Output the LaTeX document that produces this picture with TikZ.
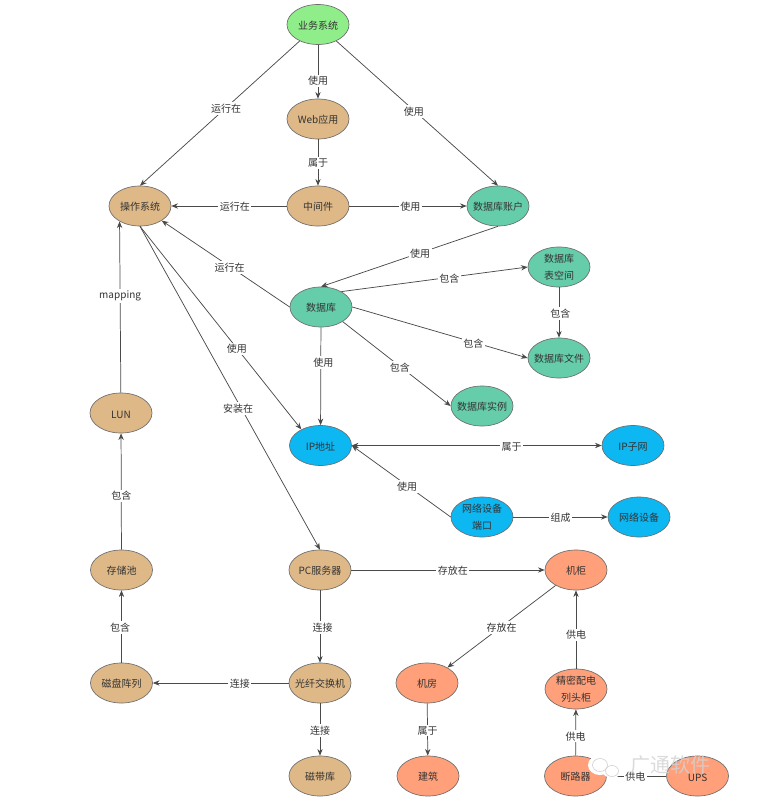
\documentclass[tikz,border=0pt]{standalone}
\usepackage{fontspec}
\setmainfont{Noto Sans CJK SC}
\usetikzlibrary{arrows.meta,shapes.geometric}
\definecolor{greenfill}{HTML}{8FEE8A}
\definecolor{tanfill}{HTML}{DEB887}
\definecolor{tealfill}{HTML}{66CDAA}
\definecolor{bluefill}{HTML}{0DB7F2}
\definecolor{coralfill}{HTML}{FFA07A}
\definecolor{edgecol}{HTML}{4A4A4A}
\definecolor{textcol}{HTML}{333333}
\tikzset{
  x=0.75pt,y=-0.75pt,
  ent/.style={ellipse,draw=edgecol!80,line width=0.5pt,minimum width=46.5pt,minimum height=30pt,inner xsep=-8pt,inner ysep=-4pt,align=center,font=\fontsize{7.5}{12.75}\selectfont,text=textcol},
  oneline/.style={ent,text height=8pt},
  lab/.style={fill=white,inner sep=1.2pt,yshift=-0.75pt,font=\fontsize{7.5}{9}\selectfont,text=textcol},
  link/.style={draw=edgecol,line width=0.55pt,-{Stealth[length=5pt,width=4pt]}},
  both/.style={draw=edgecol,line width=0.55pt,{Stealth[length=5pt,width=4pt]}-{Stealth[length=5pt,width=4pt]}},
  plain/.style={draw=edgecol,line width=0.55pt},
}
\begin{document}
\begin{tikzpicture}
\useasboundingbox (0,0) rectangle (767,802);
\fill[white] (0,0) rectangle (767,802);
\node[oneline,fill=greenfill] (biz) at (318,24.5) {业务系统};
\node[oneline,fill=tanfill] (web) at (318,119) {Web应用};
\node[oneline,fill=tanfill] (mw) at (318,206) {中间件};
\node[oneline,fill=tanfill] (os) at (140,206) {操作系统};
\node[oneline,fill=tealfill] (acct) at (498,206) {数据库账户};
\node[oneline,fill=tealfill] (db) at (321,307) {数据库};
\node[ent,fill=tealfill] (ts) at (559,267) {数据库\\表空间};
\node[oneline,fill=tealfill] (dbf) at (559,358) {数据库文件};
\node[oneline,fill=tealfill] (inst) at (482,406) {数据库实例};
\node[oneline,fill=bluefill] (ip) at (320.5,445.5) {IP地址};
\node[oneline,fill=bluefill] (subnet) at (633,445.5) {IP子网};
\node[ent,fill=bluefill] (port) at (482,517) {网络设备\\端口};
\node[oneline,fill=bluefill] (dev) at (639,517) {网络设备};
\node[oneline,fill=tanfill] (lun) at (121,413) {LUN};
\node[oneline,fill=tanfill] (pool) at (121.5,570) {存储池};
\node[oneline,fill=tanfill] (array) at (121.5,683) {磁盘阵列};
\node[oneline,fill=tanfill] (pc) at (320,570) {PC服务器};
\node[oneline,fill=tanfill] (sw) at (320,683) {光纤交换机};
\node[oneline,fill=tanfill] (tape) at (320,776) {磁带库};
\node[oneline,fill=coralfill] (rack) at (576,570) {机柜};
\node[oneline,fill=coralfill] (room) at (427,683) {机房};
\node[oneline,fill=coralfill] (bldg) at (428,776) {建筑};
\node[ent,fill=coralfill] (pdu) at (576,689) {精密配电\\列头柜};
\node[oneline,fill=coralfill] (brk) at (575.5,776) {断路器};
\node[oneline,fill=coralfill] (ups) at (697.5,776) {UPS};

\draw[link] (biz.222) -- node[lab,pos=.46] {运行在} (os.north);
\draw[link] (biz) -- node[lab,pos=.65] {使用} (web);
\draw[link] (biz.318) -- node[lab,pos=.48] {使用} (acct.north);
\draw[link] (web) -- node[lab,pos=.49] {属于} (mw);
\draw[link] (mw) -- node[lab,pos=.45] {运行在} (os);
\draw[link] (mw) -- node[lab,pos=.52] {使用} (acct);
\draw[link] (acct.south) -- node[lab,pos=.44] {使用} (db.north);
\draw[link] (db.west) -- node[lab,pos=.47] {运行在} (os.326);
\draw[link] (db.37) -- node[lab,pos=.58] {包含} (ts.west);
\draw[link] (db.east) -- node[lab,pos=.69] {包含} (dbf.west);
\draw[link] (db.326) -- node[lab,pos=.53] {包含} (inst.west);
\draw[link] (db) -- node[lab,pos=.35,xshift=2pt] {使用} (ip);
\draw[link] (ts) -- node[lab,pos=.5,xshift=1pt] {包含} (dbf);
\draw[link] (os.south) -- node[lab,pos=.6] {使用} (ip.140);
\draw[link] (os.south) -- node[lab,pos=.56,xshift=-2pt] {安装在} (pc.north);
\draw[both] (ip) -- node[lab,pos=.64] {属于} (subnet);
\draw[link] (port.west) -- node[lab,pos=.44] {使用} (ip.east);
\draw[link] (port) -- node[lab,pos=.5] {组成} (dev);
\draw[link] (lun) -- node[lab,pos=.57] {mapping} (os.217);
\draw[link] (pool) -- node[lab,pos=.47] {包含} (lun);
\draw[link] (array) -- node[lab,pos=.5,xshift=-1pt] {包含} (pool);
\draw[link] (pc) -- node[lab,pos=.525] {存放在} (rack);
\draw[link] (pc) -- node[lab,pos=.5,xshift=2pt] {连接} (sw);
\draw[link] (sw) -- node[lab,pos=.36] {连接} (array);
\draw[link] (sw) -- node[lab,pos=.5] {连接} (tape);
\draw[link] (rack) -- node[lab,pos=.5] {存放在} (room);
\draw[link] (pdu) -- node[lab,pos=.44] {供电} (rack);
\draw[link] (room) -- node[lab,pos=.5] {属于} (bldg);
\draw[link] (brk) -- node[lab,pos=.44] {供电} (pdu);
\draw[plain] (ups) -- node[lab,pos=.52] {供电} (brk);

% watermark
\fill[white] (600,765) ellipse (12 and 10);
\fill[white] (612,770) ellipse (10 and 8);
\draw[gray!40,line width=0.4pt] (600,765) ellipse (7.5 and 6.5);
\draw[gray!40,line width=0.4pt] (612,771) ellipse (6.5 and 5.5);
\node[text=gray!35,opacity=.8,font=\fontsize{15}{15}\selectfont,inner sep=0pt] (wm) at (670,765) {广通软件};
\end{tikzpicture}
\end{document}
